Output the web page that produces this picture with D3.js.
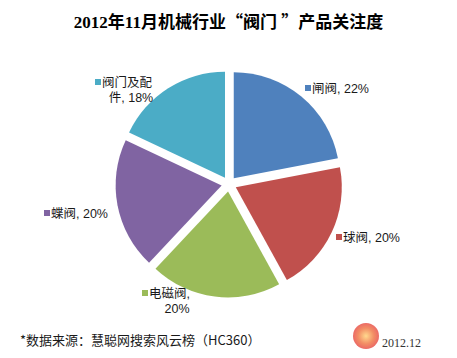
<!DOCTYPE html>
<html><head><meta charset="utf-8">
<script src="https://cdn.jsdelivr.net/npm/d3@7"></script>
<style>
body{margin:0;background:#fff;}
svg{display:block;}
</style></head>
<body>
<svg id="chart" width="457" height="358"></svg>
<script>
const categories = ["闸阀", "球阀", "电磁阀", "蝶阀", "阀门及配件"];
const values = [22, 20, 20, 20, 18];
const colors = ["#4F81BD", "#C0504D", "#9BBB59", "#8064A2", "#4BACC6"];
// label text lines (as shown in reference)
const labelLines = [["闸阀, 22%"], ["球阀, 20%"], ["电磁阀,", "20%"], ["蝶阀, 20%"], ["阀门及配", "件, 18%"]];
const titleParts = [["2012年11月机械行业", false], ["“", true], ["阀门 ", false], ["”", true], ["产品关注度", false]];

const svg = d3.select("#chart");
const W = 457, H = 358;
const cx = 229, cy = 184, R = 106, explode = 7.5;
// label layout (x of colour square, baseline y of first line, centre x of 2nd line)
const labelLayout = [
  {x:305, y:93},
  {x:336, y:242},
  {x:142, y:298, x2:177},
  {x:44,  y:218},
  {x:95,  y:87, x2:131}
];

const title = svg.append("text")
  .attr("x", W/2).attr("y", 28)
  .attr("text-anchor", "middle")
  .attr("font-family", "'Liberation Serif','Noto Sans CJK SC',serif")
  .attr("font-weight", "bold")
  .attr("font-size", 17)
  .attr("fill", "#000");
titleParts.forEach(([t, cjk]) => {
  const ts = title.append("tspan").text(t);
  if (cjk) ts.attr("font-family", "'Noto Sans CJK SC',sans-serif");
});

const pie = d3.pie().sort(null).value(d => d);
const arcs = pie(values);
const arc = d3.arc().innerRadius(0).outerRadius(R);

const g = svg.append("g").attr("transform", `translate(${cx},${cy})`);
g.selectAll("path").data(arcs).join("path")
  .attr("d", arc)
  .attr("fill", (d,i) => colors[i])
  .attr("transform", d => {
    const a = (d.startAngle + d.endAngle)/2;
    return `translate(${explode*Math.sin(a)},${-explode*Math.cos(a)})`;
  });

const lf = "'Liberation Sans','Noto Sans CJK SC',sans-serif";
labelLines.forEach((lines, i) => {
  const L = labelLayout[i];
  svg.append("rect").attr("x", L.x).attr("y", L.y - 8).attr("width", 6).attr("height", 6)
    .attr("fill", colors[i]);
  svg.append("text").attr("x", L.x + 7).attr("y", L.y)
    .attr("font-family", lf).attr("font-size", 12.5).attr("fill", "#1a1a1a")
    .text(lines[0]);
  if (lines.length > 1) {
    svg.append("text").attr("x", L.x2).attr("y", L.y + 15)
      .attr("text-anchor", "middle")
      .attr("font-family", lf).attr("font-size", 12.5).attr("fill", "#1a1a1a")
      .text(lines[1]);
  }
});

svg.append("text").attr("x", 20).attr("y", 345)
  .attr("font-family", "'Noto Sans CJK SC',sans-serif").attr("font-size", 13).attr("fill", "#1a1a1a")
  .text("*数据来源：慧聪网搜索风云榜（HC360）");

// logo mark (bottom right, decorative shape only)
const defs = svg.append("defs");
const rg = defs.append("radialGradient").attr("id", "lg");
rg.append("stop").attr("offset", "0%").attr("stop-color", "#ffd27a");
rg.append("stop").attr("offset", "60%").attr("stop-color", "#f07a4a");
rg.append("stop").attr("offset", "100%").attr("stop-color", "#e8504a");
svg.append("circle").attr("cx", 366).attr("cy", 336).attr("r", 13).attr("fill", "url(#lg)").attr("opacity", 0.85);

svg.append("text").attr("x", 382).attr("y", 347)
  .attr("font-family", "'Liberation Serif',serif").attr("font-size", 12).attr("fill", "#333")
  .text("2012.12");
</script>
</body></html>
